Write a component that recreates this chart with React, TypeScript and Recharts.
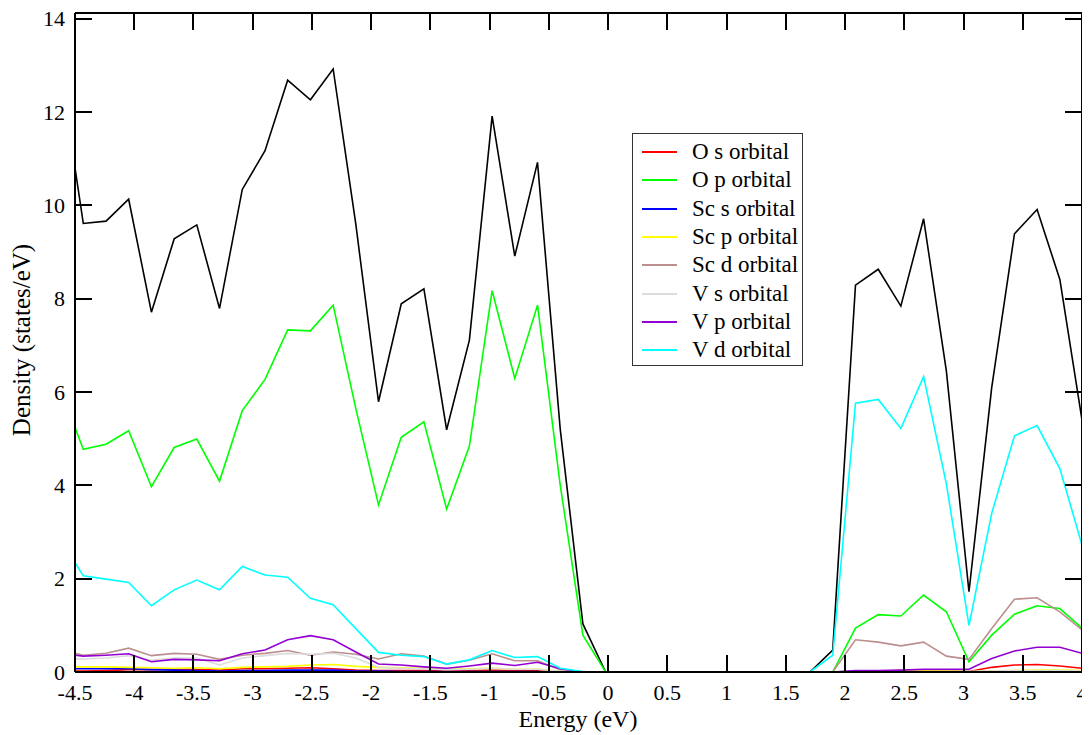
import { LineChart, Line, XAxis, YAxis } from "recharts";

const SERIF = "'Liberation Serif', 'DejaVu Serif', serif";

// energy grid (eV), first point is where the curves enter the frame
const energy = [
  -4.5, -4.43, -4.238, -4.047, -3.855, -3.663, -3.472, -3.28, -3.088, -2.896, -2.705, -2.513,
  -2.321, -2.13, -1.938, -1.746, -1.555, -1.363, -1.171, -0.979, -0.788, -0.596, -0.404,
  -0.213, -0.021, 0.171, 0.363, 0.554, 0.746, 0.938, 1.129, 1.321, 1.513, 1.704, 1.896,
  2.088, 2.28, 2.471, 2.663, 2.855, 3.046, 3.238, 3.43, 3.621, 3.813, 4.0,
];

const total = [
  10.8, 9.61, 9.66, 10.13, 7.71, 9.28, 9.58, 7.79, 10.34, 11.17, 12.68, 12.26, 12.92, 9.6,
  5.79, 7.89, 8.21, 5.19, 7.11, 11.91, 8.91, 10.92, 5.2, 1.03, 0, 0, 0, 0, 0, 0, 0, 0, 0, 0,
  0.47, 8.29, 8.63, 7.84, 9.71, 6.45, 1.72, 6.1, 9.39, 9.91, 8.41, 5.4,
];
const oS = [
  0.02, 0.02, 0.03, 0.05, 0.05, 0.06, 0.05, 0.04, 0.07, 0.07, 0.08, 0.09, 0.07, 0.04, 0.03,
  0.03, 0.03, 0.02, 0.03, 0.04, 0.03, 0.04, 0.01, 0, 0, 0, 0, 0, 0, 0, 0, 0, 0, 0, 0, 0.01,
  0.02, 0.03, 0.03, 0.02, 0.01, 0.1, 0.15, 0.16, 0.13, 0.08,
];
const oP = [
  5.24, 4.77, 4.88, 5.17, 3.97, 4.81, 4.99, 4.09, 5.6, 6.27, 7.33, 7.31, 7.86, 5.65, 3.58,
  5.03, 5.36, 3.49, 4.84, 8.17, 6.29, 7.86, 4.0, 0.79, 0, 0, 0, 0, 0, 0, 0, 0, 0, 0, 0, 0.94,
  1.23, 1.2, 1.65, 1.29, 0.22, 0.79, 1.24, 1.42, 1.36, 0.94,
];
const scS = [
  0.07, 0.07, 0.07, 0.07, 0.05, 0.04, 0.03, 0.02, 0.03, 0.03, 0.04, 0.04, 0.04, 0.02, 0.02,
  0.01, 0.01, 0.01, 0.01, 0.01, 0.01, 0.01, 0.01, 0, 0, 0, 0, 0, 0, 0, 0, 0, 0, 0, 0, 0.01,
  0.01, 0.01, 0.01, 0.01, 0.01, 0.01, 0.01, 0.01, 0.01, 0.01,
];
const scP = [
  0.11, 0.11, 0.11, 0.1, 0.09, 0.08, 0.09, 0.07, 0.1, 0.11, 0.12, 0.15, 0.16, 0.12, 0.1,
  0.09, 0.08, 0.06, 0.07, 0.08, 0.06, 0.06, 0.02, 0, 0, 0, 0, 0, 0, 0, 0, 0, 0, 0, 0, 0.01,
  0.02, 0.02, 0.02, 0.02, 0.01, 0.02, 0.03, 0.04, 0.04, 0.03,
];
const scD = [
  0.4, 0.36, 0.4, 0.51, 0.35, 0.4, 0.38, 0.27, 0.36, 0.4, 0.46, 0.36, 0.43, 0.38, 0.28, 0.39,
  0.34, 0.17, 0.25, 0.39, 0.24, 0.24, 0.05, 0, 0, 0, 0, 0, 0, 0, 0, 0, 0, 0, 0, 0.69, 0.64,
  0.56, 0.64, 0.34, 0.27, 0.93, 1.56, 1.59, 1.29, 0.9,
];
const vS = [
  0.28, 0.28, 0.3, 0.35, 0.25, 0.3, 0.3, 0.15, 0.3, 0.35, 0.4, 0.38, 0.4, 0.3, 0.1, 0.08,
  0.07, 0.05, 0.06, 0.08, 0.06, 0.06, 0.02, 0, 0, 0, 0, 0, 0, 0, 0, 0, 0, 0, 0, 0.01, 0.01,
  0.01, 0.01, 0.01, 0.01, 0.02, 0.03, 0.03, 0.03, 0.02,
];
const vP = [
  0.36, 0.34, 0.36, 0.39, 0.22, 0.27, 0.26, 0.24, 0.39, 0.47, 0.69, 0.78, 0.69, 0.43, 0.17,
  0.15, 0.11, 0.08, 0.13, 0.19, 0.14, 0.21, 0.07, 0, 0, 0, 0, 0, 0, 0, 0, 0, 0, 0, 0, 0.03,
  0.03, 0.04, 0.06, 0.06, 0.06, 0.29, 0.45, 0.53, 0.53, 0.4,
];
const vD = [
  2.34, 2.06, 1.99, 1.92, 1.42, 1.76, 1.97, 1.76, 2.26, 2.08, 2.03, 1.58, 1.44, 0.93, 0.42,
  0.36, 0.33, 0.17, 0.26, 0.46, 0.31, 0.33, 0.08, 0.01, 0, 0, 0, 0, 0, 0, 0, 0, 0, 0, 0.36,
  5.76, 5.84, 5.22, 6.33, 4.03, 1.0, 3.4, 5.06, 5.28, 4.36, 2.72,
];

const X_TICKS = [-4.5, -4, -3.5, -3, -2.5, -2, -1.5, -1, -0.5, 0, 0.5, 1, 1.5, 2, 2.5, 3, 3.5, 4];
const Y_TICKS = [0, 2, 4, 6, 8, 10, 12, 14];
const X_DOMAIN = [-4.5, 4];
const Y_DOMAIN = [0, 14.12];

const SERIES = [
  { key: "oS", label: "O s orbital", color: "#ff0000", values: oS },
  { key: "oP", label: "O p orbital", color: "#00ff00", values: oP },
  { key: "scS", label: "Sc s orbital", color: "#0000ff", values: scS },
  { key: "scP", label: "Sc p orbital", color: "#ffff00", values: scP },
  { key: "scD", label: "Sc d orbital", color: "#bc8f8f", values: scD },
  { key: "vS", label: "V s orbital", color: "#dcdcdc", values: vS },
  { key: "vP", label: "V p orbital", color: "#9400d3", values: vP },
  { key: "vD", label: "V d orbital", color: "#00ffff", values: vD },
];

const rows = energy.map((e, i) => {
  const r: Record<string, number> = { e, total: total[i] };
  SERIES.forEach((s) => (r[s.key] = s.values[i]));
  return r;
});

const W = 1082;
const H = 727;
const MARGIN = { top: 4, right: 7, bottom: 62, left: 66 };
// plot box (axes take 1px each)
const PL = MARGIN.left + 1;
const PR = W - MARGIN.right - 1;
const PT = MARGIN.top + 1;
const PB = H - MARGIN.bottom - 1;
const TICK_LEN = 17;

const sx = (v: number) => PL + ((v - X_DOMAIN[0]) / (X_DOMAIN[1] - X_DOMAIN[0])) * (PR - PL);
const sy = (v: number) => PB - ((v - Y_DOMAIN[0]) / (Y_DOMAIN[1] - Y_DOMAIN[0])) * (PB - PT);

function BottomLabel({ x, y, payload }: any) {
  return (
    <text x={x} y={y + 12} dy="0.71em" textAnchor="middle" fontSize={22} fontFamily={SERIF} fill="#000">
      {payload.value}
    </text>
  );
}
function LeftLabel({ x, y, payload }: any) {
  return (
    <text x={x - 10} y={y} dy="0.355em" textAnchor="end" fontSize={22} fontFamily={SERIF} fill="#000">
      {payload.value}
    </text>
  );
}
const NoLabel = () => <g />;

const axisLine = { stroke: "#000", strokeWidth: 2 };

// inward tick marks on all four sides of the frame
function TickMarks() {
  return (
    <svg
      width={W}
      height={H}
      style={{ position: "absolute", left: 0, top: 0, pointerEvents: "none", zIndex: 2 }}
    >
      {X_TICKS.map((t) => {
        const x = Math.round(sx(t)) - 1;
        return (
          <g key={`x${t}`}>
            <rect x={x} y={PB - TICK_LEN} width={2} height={TICK_LEN} fill="#000" />
            <rect x={x} y={PT} width={2} height={TICK_LEN} fill="#000" />
          </g>
        );
      })}
      {Y_TICKS.map((t) => {
        const y = Math.round(sy(t)) - 1;
        return (
          <g key={`y${t}`}>
            <rect x={PL} y={y} width={TICK_LEN} height={2} fill="#000" />
            <rect x={PR - TICK_LEN} y={y} width={TICK_LEN} height={2} fill="#000" />
          </g>
        );
      })}
    </svg>
  );
}

export default function App() {
  return (
    <div style={{ position: "relative", width: W, height: H, fontFamily: SERIF }}>
      <LineChart width={W} height={H} data={rows} margin={MARGIN}>
        <XAxis
          xAxisId="b"
          dataKey="e"
          type="number"
          domain={X_DOMAIN}
          ticks={X_TICKS}
          interval={0}
          allowDataOverflow
          height={1}
          tickSize={0}
          tickMargin={0}
          axisLine={axisLine}
          tickLine={false}
          tick={BottomLabel}
        />
        <XAxis
          xAxisId="t"
          dataKey="e"
          type="number"
          orientation="top"
          domain={X_DOMAIN}
          ticks={X_TICKS}
          interval={0}
          allowDataOverflow
          height={1}
          tickSize={0}
          axisLine={axisLine}
          tickLine={false}
          tick={NoLabel}
        />
        <YAxis
          yAxisId="l"
          type="number"
          domain={Y_DOMAIN}
          ticks={Y_TICKS}
          interval={0}
          width={1}
          tickSize={0}
          tickMargin={0}
          axisLine={axisLine}
          tickLine={false}
          tick={LeftLabel}
        />
        <YAxis
          yAxisId="r"
          orientation="right"
          type="number"
          domain={Y_DOMAIN}
          ticks={Y_TICKS}
          interval={0}
          width={1}
          tickSize={0}
          axisLine={axisLine}
          tickLine={false}
          tick={NoLabel}
        />
        <Line
          xAxisId="b"
          yAxisId="l"
          type="linear"
          dataKey="total"
          stroke="#000"
          strokeWidth={1.6}
          dot={false}
          isAnimationActive={false}
        />
        {SERIES.map((s) => (
          <Line
            key={s.key}
            xAxisId="b"
            yAxisId="l"
            type="linear"
            dataKey={s.key}
            stroke={s.color}
            strokeWidth={1.6}
            dot={false}
            isAnimationActive={false}
          />
        ))}
      </LineChart>

      <TickMarks />

      {/* legend box */}
      <div
        style={{
          position: "absolute",
          left: 624,
          top: 125,
          width: 169,
          height: 231,
          border: "1.5px solid #333",
          background: "#fff",
          boxSizing: "content-box",
          zIndex: 3,
        }}
      >
        {SERIES.map((s, i) => (
          <div
            key={s.key}
            style={{
              position: "absolute",
              left: 0,
              top: 18 + i * 28.3 - 14,
              height: 28,
              display: "flex",
              alignItems: "center",
              whiteSpace: "nowrap",
            }}
          >
            <div style={{ marginLeft: 9, width: 35, height: 0, borderTop: `2px solid ${s.color}` }} />
            <span style={{ marginLeft: 15, fontSize: 23, color: "#000" }}>{s.label}</span>
          </div>
        ))}
      </div>

      {/* axis titles */}
      <div
        style={{
          position: "absolute",
          left: 420,
          top: 699,
          width: 300,
          textAlign: "center",
          fontSize: 24,
          lineHeight: "24px",
        }}
      >
        Energy (eV)
      </div>
      <div
        style={{
          position: "absolute",
          left: 14 - 150,
          top: 332 - 12,
          width: 300,
          textAlign: "center",
          fontSize: 25,
          lineHeight: "24px",
          transform: "rotate(-90deg)",
        }}
      >
        Density (states/eV)
      </div>
    </div>
  );
}
